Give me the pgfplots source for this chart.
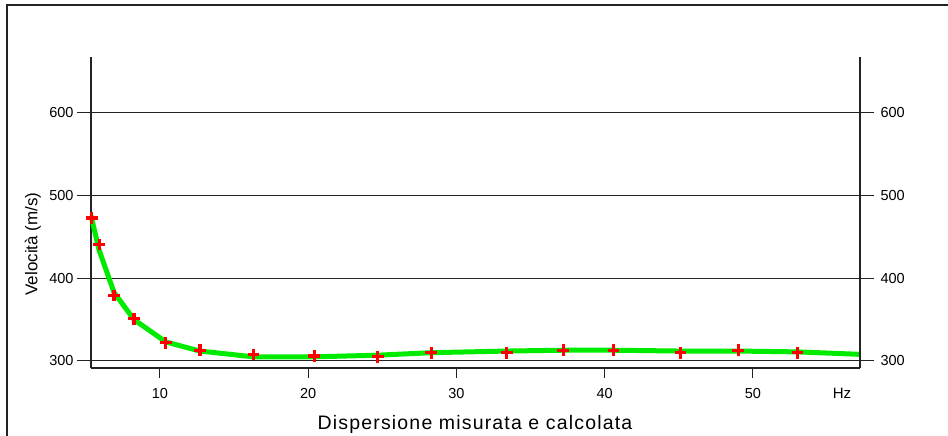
\documentclass[border=0pt]{standalone}
\usepackage{fontspec}
\setmainfont{Liberation Sans}
\newfontfamily\titlefont[LetterSpace=6]{Liberation Sans}
\usepackage{pgfplots}
\pgfplotsset{compat=1.18}
\definecolor{linegreen}{RGB}{0,235,0}
\definecolor{axgray}{RGB}{35,35,35}
\pgfplotstableread{
x y
5.40 473
5.90 441
6.90 379
8.25 351
10.40 322
12.70 313
16.30 308
20.40 306
24.70 305
28.30 310
33.40 310
37.20 313
40.60 313
45.10 310
49.00 313
53.00 310
}\measured
\pgfplotstableread{
x y
5.35 476
5.90 434
6.90 383
8.25 350
10.40 323
12.70 312
16.30 305
20.40 305
24.70 307
28.30 310
33.40 312
37.20 313
40.60 313
45.10 312
49.00 312
53.00 311
57.22 308
}\computed
\begin{document}
\begin{tikzpicture}[x=1pt,y=1pt]
\useasboundingbox (0,0) rectangle (948,436);
\draw[axgray, line width=1.2pt] (7,0) -- (7,431) -- (948,431);
\begin{axis}[
  at={(91pt,68pt)}, anchor=south west, scale only axis,
  width=769pt, height=311pt,
  xmin=5.35, xmax=57.22, ymin=291.5, ymax=667.7,
  axis x line*=bottom, axis y line*=left,
  xtick={10,20,30,40,50}, ytick={300,400,500,600},
  tick align=outside, major tick length=14pt,
  xtick style={/pgfplots/major tick length=10pt},
  tick style={axgray, line width=1pt},
  ymajorgrids, grid style={axgray, line width=1pt},
  axis line style={axgray, line width=1.2pt},
  /pgf/number format/assume math mode=true,
  tick label style={font=\fontsize{14.5}{16}\selectfont},
  xticklabel style={yshift=-3pt},
  clip=false,
]
\addplot[only marks, mark=+, mark size=5.8pt, red, line width=3.2pt] table {\measured};
\addplot[linegreen, line width=5pt, line join=round] table {\computed};
\end{axis}
\begin{axis}[
  at={(91pt,68pt)}, anchor=south west, scale only axis,
  width=769pt, height=311pt,
  xmin=5.35, xmax=57.22, ymin=291.5, ymax=667.7,
  axis y line*=right, axis x line=none,
  ytick={300,400,500,600},
  tick align=outside, major tick length=14pt,
  tick style={axgray, line width=1pt},
  axis line style={axgray, line width=1.2pt},
  /pgf/number format/assume math mode=true,
  tick label style={font=\fontsize{14.5}{16}\selectfont},
  yticklabel style={xshift=3pt},
]
\end{axis}
\node[font=\fontsize{15}{17}\selectfont] at (842,43) {Hz};
\node[rotate=90, font=\fontsize{17}{19}\selectfont] at (33,192) {Velocità (m/s)};
\node[font=\titlefont\fontsize{19.5}{22}\selectfont] at (475,12) {Dispersione misurata e calcolata};
\end{tikzpicture}
\end{document}
